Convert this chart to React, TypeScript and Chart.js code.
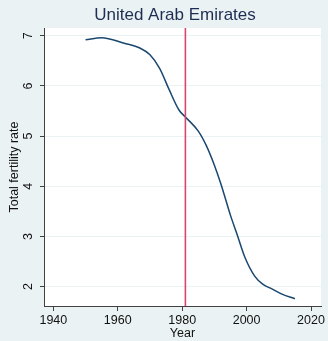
import React, { useEffect, useRef } from "react";
import { Chart, registerables } from "chart.js";

Chart.register(...registerables);

const TITLE = "United Arab Emirates";
const X_LABEL = "Year";
const Y_LABEL = "Total fertility rate";

const years = [1950, 1955, 1962, 1967, 1970, 1973, 1976, 1979, 1981, 1985, 1987.5, 1990, 1992, 1995, 1997, 1999.5, 2002.5, 2005, 2008, 2011, 2015];
const fertility = [6.92, 6.96, 6.85, 6.75, 6.62, 6.35, 5.92, 5.52, 5.38, 5.1, 4.81, 4.42, 4.05, 3.42, 3.05, 2.58, 2.21, 2.05, 1.95, 1.85, 1.76];

const xTicks = [1940, 1960, 1980, 2000, 2020];
const yTicks = [2, 3, 4, 5, 6, 7];
const markerYear = 1981;

const FONT = "'Liberation Sans', Arial, sans-serif";

export default function App() {
  const ref = useRef<HTMLCanvasElement>(null);

  useEffect(() => {
    document.body.style.margin = "0";
    const canvas = ref.current!;
    const bgPlugin = {
      id: "bg",
      beforeDraw(chart: any) {
        const { ctx, chartArea } = chart;
        ctx.save();
        ctx.fillStyle = "#EAF2F3";
        ctx.fillRect(0, 0, chart.width, chart.height);
        ctx.fillStyle = "#FFFFFF";
        ctx.fillRect(chartArea.left, chartArea.top, chartArea.right - chartArea.left, chartArea.bottom - chartArea.top);
        ctx.restore();
      },
      afterDatasetsDraw(chart: any) {
        const { ctx, chartArea, scales } = chart;
        const x = scales.x.getPixelForValue(markerYear);
        ctx.save();
        ctx.strokeStyle = "#D6476F";
        ctx.lineWidth = 1.6;
        ctx.beginPath();
        ctx.moveTo(x, chartArea.top);
        ctx.lineTo(x, chartArea.bottom);
        ctx.stroke();
        ctx.restore();
      },
      afterDraw(chart: any) {
        const { ctx, scales } = chart;
        ctx.save();
        ctx.fillStyle = "#1E2D53";
        ctx.font = "17px " + FONT;
        ctx.textAlign = "center";
        ctx.textBaseline = "middle";
        ctx.fillText(TITLE, 175, 15);
        ctx.fillStyle = "#111";
        ctx.font = "12.5px " + FONT;
        for (const v of yTicks) {
          const y = scales.y.getPixelForValue(v);
          ctx.save();
          ctx.translate(28.5, y);
          ctx.rotate(-Math.PI / 2);
          ctx.textAlign = "center";
          ctx.textBaseline = "middle";
          ctx.fillText(String(v), 0, 0);
          ctx.restore();
        }
        ctx.restore();
      },
    };

    const chart = new Chart(canvas, {
      type: "line",
      data: {
        datasets: [
          {
            data: years.map((y, i) => ({ x: y, y: fertility[i] })),
            borderColor: "#1A476F",
            borderWidth: 1.5,
            pointRadius: 0,
            cubicInterpolationMode: "monotone",
            fill: false,
          },
        ],
      },
      options: {
        animation: false,
        responsive: false,
        devicePixelRatio: 1,
        layout: { padding: { top: 28, right: 7, left: 0, bottom: 0 } },
        plugins: { legend: { display: false }, tooltip: { enabled: false }, title: { display: false } },
        scales: {
          x: {
            type: "linear",
            min: 1937.1,
            max: 2023.1,
            afterBuildTicks: (s: any) => {
              s.ticks = xTicks.map((v) => ({ value: v }));
            },
            afterFit: (s: any) => {
              s.height = 35;
            },
            grid: { drawOnChartArea: false, tickLength: 5, tickColor: "#404040", tickWidth: 1 },
            border: { color: "#404040", width: 1 },
            ticks: {
              padding: 2,
              maxRotation: 0,
              color: "#111",
              font: { family: FONT, size: 12.5 },
              callback: (v: any) => String(v),
            },
            title: {
              display: true,
              text: X_LABEL,
              color: "#111",
              padding: { top: 0, bottom: 0 },
              font: { family: FONT, size: 12.5 },
            },
          },
          y: {
            type: "linear",
            min: 1.614,
            max: 7.154,
            afterBuildTicks: (s: any) => {
              s.ticks = yTicks.map((v) => ({ value: v }));
            },
            afterFit: (s: any) => {
              s.width = 44;
            },
            grid: { drawOnChartArea: true, color: "#EAF2F3", lineWidth: 1, tickLength: 4, tickColor: "#404040" },
            border: { color: "#404040", width: 1 },
            ticks: { display: false },
            title: {
              display: true,
              text: Y_LABEL,
              color: "#111",
              padding: { top: 7, bottom: 0 },
              font: { family: FONT, size: 12.5 },
            },
          },
        },
      },
      plugins: [bgPlugin],
    } as any);
    return () => chart.destroy();
  }, []);

  return (
    <div style={{ position: "absolute", left: 0, top: 0, width: 328, height: 341 }}>
      <canvas ref={ref} width={328} height={341} style={{ display: "block" }} />
    </div>
  );
}
